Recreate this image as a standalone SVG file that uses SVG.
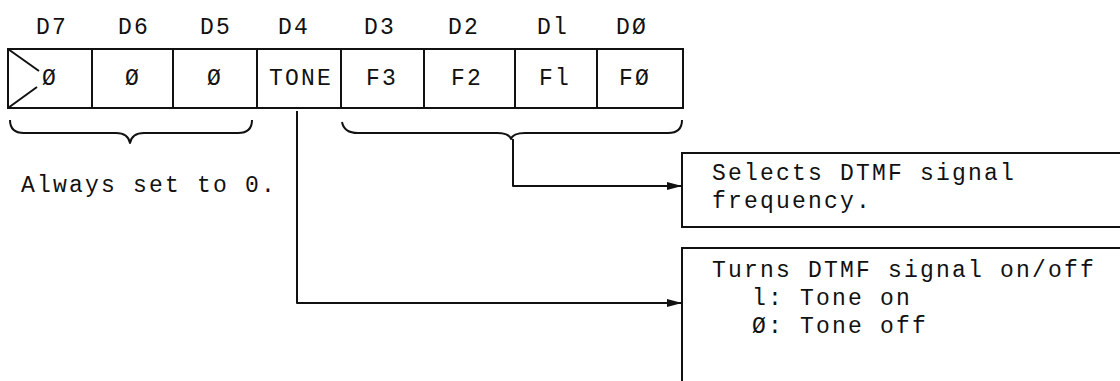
<svg xmlns="http://www.w3.org/2000/svg" width="1120" height="381" viewBox="0 0 1120 381">
<style>
.t{font-family:"Liberation Mono","DejaVu Sans Mono",monospace;font-size:23px;letter-spacing:2.2px;fill:#111}
.b{fill:none;stroke:#111;stroke-width:2}
.c{fill:none;stroke:#111;stroke-width:2;stroke-linejoin:round}
</style>
<defs>
<marker id="arr" markerUnits="userSpaceOnUse" markerWidth="16" markerHeight="10" refX="15" refY="5" orient="auto">
<path d="M0,1 L15,5 L0,9 Z" fill="#111"/>
</marker>
</defs>
<rect width="1120" height="381" fill="#fff"/>
<g id="bit-d7"><rect class="b" x="8" y="49" width="84" height="59"/><path class="b" d="M8,49 L39,71 M8,108 L37,87"/><text class="t" x="36" y="34">D7</text><text class="t" x="42" y="85">Ø</text></g>
<g id="bit-d6"><rect class="b" x="92" y="49" width="81" height="59"/><text class="t" x="118" y="34">D6</text><text class="t" x="125" y="85">Ø</text></g>
<g id="bit-d5"><rect class="b" x="173" y="49" width="84" height="59"/><text class="t" x="200" y="34">D5</text><text class="t" x="207" y="85">Ø</text></g>
<g id="bit-d4"><rect class="b" x="257" y="49" width="84" height="59"/><text class="t" x="278" y="34">D4</text><text class="t" x="269" y="85">TONE</text></g>
<g id="bit-d3"><rect class="b" x="341" y="49" width="83" height="59"/><text class="t" x="364" y="34">D3</text><text class="t" x="366" y="85">F3</text></g>
<g id="bit-d2"><rect class="b" x="424" y="49" width="91" height="59"/><text class="t" x="448" y="34">D2</text><text class="t" x="451" y="85">F2</text></g>
<g id="bit-d1"><rect class="b" x="515" y="49" width="82" height="59"/><text class="t" x="537" y="34">Dl</text><text class="t" x="539" y="85">Fl</text></g>
<g id="bit-d0"><rect class="b" x="597" y="49" width="86" height="59"/><text class="t" x="616" y="34">DØ</text><text class="t" x="619" y="85">FØ</text></g>
<g id="note-always"><text class="t" x="21" y="192">Always set to 0.</text></g>
<g id="note-select"><rect class="b" x="682" y="153" width="460" height="74"/><text class="t" x="712" y="180">Selects DTMF signal</text><text class="t" x="712" y="208">frequency.</text></g>
<g id="note-tone"><rect class="b" x="682" y="248" width="460" height="160"/><text class="t" x="712" y="277">Turns DTMF signal on/off</text><text class="t" x="752" y="305">l: Tone on</text><text class="t" x="752" y="333">Ø: Tone off</text></g>
<g id="connectors">
<path class="c" d="M10,120 Q10,133 24,133 L116,133 Q128,133 130,143 Q132,133 144,133 L238,133 Q252,133 252,120"/>
<path class="c" d="M342,122 Q344,133 358,133 L497,133 Q509,133 511,139 Q513,133 525,133 L668,133 Q682,133 682,120"/>
<path class="c" d="M513,139 V186 H682" marker-end="url(#arr)"/>
<path class="c" d="M297,111 V303 H682" marker-end="url(#arr)"/>
</g>
</svg>
